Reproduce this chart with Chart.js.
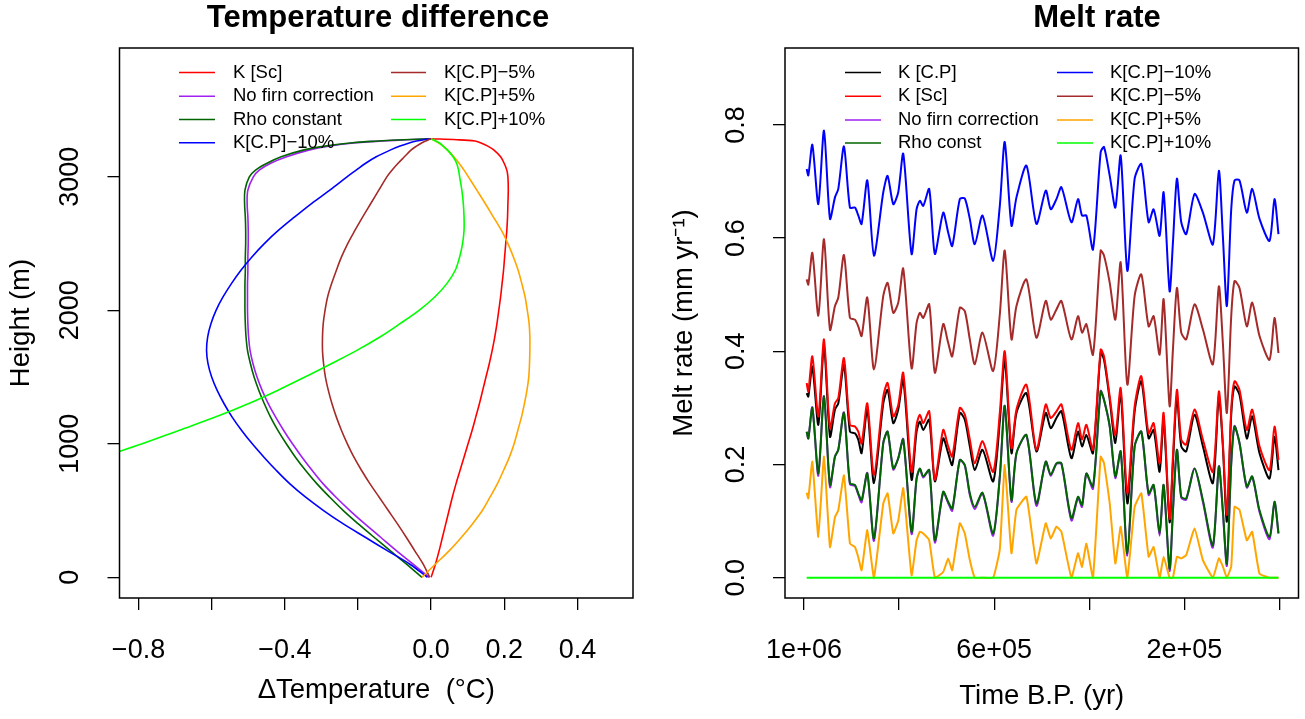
<!DOCTYPE html>
<html><head><meta charset="utf-8">
<script src="https://cdn.jsdelivr.net/npm/chart.js@4.4.1/dist/chart.umd.min.js"></script>
<style>
html,body{margin:0;padding:0;background:#fff;}
#wrap{position:relative;width:1305px;height:719px;overflow:hidden;background:#fff;}
#c1{position:absolute;left:0;top:0;}
#c2{position:absolute;left:652px;top:0;}
</style></head><body>
<div id="wrap"><canvas id="c1" width="652" height="719"></canvas><canvas id="c2" width="653" height="719"></canvas></div>
<script>
// ---------------- Left panel: temperature difference profiles ----------------
const HEIGHTS = [0,100,200,300,400,500,600,700,800,900,1000,1100,1200,1300,1400,1500,1600,1700,1800,1900,2000,2100,2200,2300,2400,2500,2600,2700,2800,2900,3000,3050,3100,3150,3200,3230,3255,3268,3278,3285];
const DT_K_SC = [0,.012,.022,.031,.040,.049,.058,.068,.079,.090,.101,.112,.122,.132,.141,.150,.159,.167,.174,.180,.185,.190,.194,.198,.201,.204,.207,.209,.210,.211,.210,.207,.200,.190,.172,.155,.135,.120,.070,0];
const DT_NO_FIRN = [-.005,-.050,-.095,-.138,-.181,-.222,-.260,-.295,-.325,-.353,-.379,-.403,-.425,-.445,-.462,-.476,-.487,-.495,-.499,-.501,-.502,-.502,-.502,-.501,-.501,-.500,-.500,-.501,-.503,-.501,-.486,-.470,-.440,-.395,-.335,-.280,-.205,-.135,-.065,0];
const DT_RHO_CONST = [-.025,-.068,-.112,-.156,-.199,-.240,-.277,-.312,-.343,-.371,-.396,-.419,-.439,-.456,-.471,-.484,-.494,-.502,-.506,-.508,-.509,-.509,-.509,-.508,-.508,-.507,-.507,-.508,-.510,-.509,-.497,-.480,-.450,-.410,-.350,-.290,-.215,-.145,-.075,0];
const DT_KCP_M10 = [-.010,-.059,-.120,-.180,-.240,-.294,-.343,-.386,-.423,-.457,-.489,-.518,-.544,-.566,-.585,-.600,-.610,-.614,-.611,-.602,-.588,-.569,-.546,-.520,-.490,-.456,-.417,-.373,-.327,-.277,-.230,-.205,-.180,-.150,-.112,-.085,-.058,-.040,-.020,0];
const DT_KCP_M5 = [-.004,-.022,-.045,-.068,-.092,-.117,-.142,-.167,-.190,-.211,-.229,-.245,-.259,-.271,-.281,-.289,-.294,-.297,-.297,-.295,-.290,-.283,-.272,-.259,-.245,-.228,-.208,-.187,-.165,-.143,-.121,-.107,-.091,-.073,-.055,-.040,-.025,-.015,-.007,0];
const DT_KCP_P5 = [-.025,.012,.050,.083,.113,.140,.161,.181,.198,.214,.227,.237,.247,.255,.262,.267,.269,.270,.270,.268,.263,.257,.248,.238,.225,.210,.192,.170,.148,.125,.102,.090,.077,.062,.045,.033,.020,.012,.005,0];
const DT_KCP_P10 = [null,null,null,null,null,null,null,null,null,-.90,-.79,-.69,-.59,-.50,-.42,-.345,-.273,-.203,-.14,-.085,-.033,.010,.043,.066,.078,.086,.090,.090,.088,.084,.078,.075,.070,.060,.045,.033,.022,.013,.005,0];

const LEFT_X_TICKS = [-0.8,-0.6,-0.4,-0.2,0,0.2,0.4];
const LEFT_X_LABELS = ['\u22120.8','','\u22120.4','','0.0','0.2','0.4'];
const LEFT_Y_TICKS = [0,1000,2000,3000];
const LEFT_Y_LABELS = ['0','1000','2000','3000'];

// ---------------- Right panel: melt rate time series ----------------
const TIME_BP = [994400,990900,982500,969900,958000,945400,934900,927900,916000,903400,892900,885900,878900,866900,852900,833300,824200,812300,801800,791300,773800,763300,756300,749300,736700,724800,707300,696800,688300,672300,661800,651300,640800,624600,602200,588200,577800,563700,553200,532200,511200,491600,481100,469100,458600,437600,423700,415300,406100,392200,376100,369000,357000,345200,334000,320000,304600,290600,275200,264700,252100,243700,231100,224100,215700,206600,196100,178600,161100,140100,127500,119100,110700,101500,94600,84100,68700,57400,42000,21000,10500,2100];
const MELT_KCP_M10 = [.722,.711,.765,.660,.790,.634,.672,.687,.762,.654,.654,.640,.625,.702,.569,.681,.710,.660,.681,.749,.572,.651,.666,.657,.687,.572,.645,.610,.586,.669,.670,.634,.589,.640,.560,.657,.770,.622,.672,.728,.625,.684,.651,.669,.690,.628,.669,.640,.640,.580,.752,.761,.710,.654,.746,.542,.705,.731,.628,.651,.604,.681,.506,.592,.705,.628,.607,.678,.645,.589,.719,.604,.480,.651,.702,.702,.645,.687,.634,.595,.669,.607];
const MELT_KCP_M5 = [.527,.518,.574,.463,.598,.438,.480,.495,.570,.459,.456,.444,.427,.495,.368,.498,.521,.468,.486,.546,.370,.450,.468,.459,.483,.362,.448,.415,.391,.477,.471,.421,.377,.433,.365,.465,.578,.421,.480,.527,.424,.489,.456,.474,.489,.421,.462,.433,.448,.394,.578,.569,.521,.456,.557,.341,.498,.536,.444,.462,.394,.492,.303,.403,.512,.433,.421,.483,.439,.377,.515,.415,.291,.462,.524,.512,.444,.486,.427,.385,.459,.397];
const MELT_KSC = [.344,.329,.391,.285,.421,.264,.308,.317,.388,.270,.267,.258,.237,.308,.181,.320,.344,.285,.305,.362,.187,.270,.288,.273,.294,.173,.261,.232,.214,.300,.288,.244,.202,.241,.187,.291,.400,.229,.297,.341,.226,.306,.282,.294,.306,.226,.273,.244,.270,.226,.403,.391,.320,.252,.335,.149,.303,.356,.255,.273,.202,.291,.104,.214,.332,.244,.235,.297,.244,.187,.329,.238,.111,.297,.347,.332,.261,.297,.232,.190,.267,.208];
const MELT_KCP = [.326,.320,.373,.270,.409,.249,.297,.308,.376,.258,.255,.244,.220,.297,.167,.308,.332,.273,.297,.350,.173,.258,.276,.261,.279,.170,.246,.220,.199,.291,.279,.232,.190,.226,.170,.276,.385,.220,.291,.326,.223,.291,.264,.282,.294,.211,.258,.232,.252,.220,.397,.385,.314,.238,.326,.131,.294,.347,.246,.261,.187,.279,.098,.202,.320,.232,.223,.288,.232,.167,.320,.232,.099,.288,.338,.323,.246,.285,.220,.175,.249,.190];
const MELT_RHO_CONST = [.258,.246,.300,.184,.320,.164,.214,.226,.291,.167,.164,.149,.137,.184,.069,.238,.258,.193,.211,.244,.081,.175,.193,.179,.190,.066,.152,.134,.122,.208,.199,.149,.125,.150,.078,.179,.303,.137,.220,.252,.131,.205,.182,.202,.202,.105,.143,.128,.184,.161,.329,.314,.267,.179,.223,.043,.232,.258,.149,.164,.078,.164,.016,.119,.226,.143,.140,.193,.137,.057,.196,.119,.025,.202,.267,.238,.161,.179,.119,.072,.134,.078];
const MELT_NO_FIRN = [.258,.246,.301,.180,.321,.160,.214,.226,.292,.165,.162,.147,.133,.185,.065,.238,.258,.191,.211,.245,.077,.174,.192,.177,.190,.062,.150,.132,.118,.208,.198,.146,.121,.149,.074,.178,.304,.134,.219,.252,.127,.205,.180,.201,.201,.101,.141,.125,.184,.157,.330,.314,.267,.176,.223,.039,.232,.258,.146,.163,.074,.163,.012,.116,.226,.141,.138,.193,.134,.053,.197,.116,.021,.201,.268,.238,.159,.178,.116,.068,.134,.078];
const MELT_KCP_P5 = [.150,.140,.205,.072,.214,.054,.107,.119,.181,.060,.054,.036,.013,.084,0,.131,.149,.078,.101,.158,.004,.066,.081,.078,.066,0,.010,.034,.013,.096,.078,.031,0,0,0,.050,.199,.043,.120,.143,.025,.096,.069,.090,.081,0,.043,.019,.060,0,.214,.202,.131,.025,.090,0,.125,.149,.037,.054,0,.037,0,0,.037,.034,.040,.087,.031,0,.034,.020,0,.020,.125,.120,.066,.081,.007,0,0,0];
const MELT_KCP_P10 = [0,0,0,0,0,0,0,0,0,0,0,0,0,0,0,0,0,0,0,0,0,0,0,0,0,0,0,0,0,0,0,0,0,0,0,0,0,0,0,0,0,0,0,0,0,0,0,0,0,0,0,0,0,0,0,0,0,0,0,0,0,0,0,0,0,0,0,0,0,0,0,0,0,0,0,0,0,0,0,0,0,0];

const RIGHT_X_TICKS = [1000000,800000,600000,400000,200000,0];
const RIGHT_X_LABELS = ['1e+06','','6e+05','','2e+05',''];
const RIGHT_Y_TICKS = [0,0.2,0.4,0.6,0.8];
const RIGHT_Y_LABELS = ['0.0','0.2','0.4','0.6','0.8'];

// ---------------- Rendering ----------------
const FONT = "'Liberation Sans', Arial, Helvetica, sans-serif";
Chart.defaults.font.family = FONT;
Chart.defaults.color = '#000';

const decor = {
  id: 'decor',
  afterDraw(chart, args, o) {
    const ctx = chart.ctx, a = chart.chartArea;
    ctx.save();
    ctx.strokeStyle = '#000';
    ctx.lineWidth = 1.5;
    ctx.strokeRect(a.left, a.top, a.right - a.left, a.bottom - a.top);
    ctx.fillStyle = '#000';
    ctx.font = 'bold 31px ' + FONT;
    ctx.textAlign = 'center';
    ctx.textBaseline = 'alphabetic';
    ctx.fillText(o.title, o.titleX, o.titleY);
    ctx.font = '18.5px ' + FONT;
    ctx.textAlign = 'left';
    ctx.textBaseline = 'middle';
    chart.data.datasets.forEach((ds, i) => {
      const col = i < o.perCol ? 0 : 1;
      const row = i < o.perCol ? i : i - o.perCol;
      const y = o.rows[row];
      const c = o.cols[col];
      ctx.strokeStyle = ds.borderColor;
      ctx.lineWidth = 1.6;
      ctx.beginPath(); ctx.moveTo(c[0], y); ctx.lineTo(c[1], y); ctx.stroke();
      ctx.fillText(ds.label, c[2], y);
    });
    ctx.restore();
  }
};

function makeAxis(cfg) {
  const a = {
    type: 'linear', min: cfg.min, max: cfg.max, reverse: !!cfg.reverse,
    afterBuildTicks: s => { s.ticks = cfg.ticks.map(v => ({ value: v })); },
    afterFit: s => { if (cfg.isX) s.height = cfg.size; else s.width = cfg.size; },
    ticks: { autoSkip: false, color: '#000', font: { size: 27, family: FONT }, padding: cfg.tickPad,
             callback: (v, i) => cfg.labels[i] },
    grid: { display: true, drawOnChartArea: false, drawTicks: true, tickLength: 12, color: '#000', lineWidth: 1.3 },
    border: { display: false },
    title: { display: true, text: cfg.title, color: '#000', font: { size: 27.5, family: FONT }, padding: cfg.titlePad }
  };
  if (cfg.isX) { a.ticks.maxRotation = 0; a.ticks.minRotation = 0; }
  else { a.ticks.maxRotation = 90; a.ticks.minRotation = 90; a.ticks.crossAlign = 'center'; }
  return a;
}

function leftSet(label, arr, color, k) {
  const pts = [];
  HEIGHTS.forEach((h, i) => { if (arr[i] !== null) pts.push({ x: arr[i], y: h }); });
  return { label, data: pts, borderColor: color, backgroundColor: color, borderWidth: 1.6,
           pointRadius: 0, showLine: true, tension: 0.35, clip: 0, order: -k };
}
function rightSet(label, arr, color, k, tension) {
  return { label, data: TIME_BP.map((t, i) => ({ x: t, y: arr[i] })), borderColor: color, backgroundColor: color,
           borderWidth: 2, pointRadius: 0, showLine: true, tension: tension, clip: 0, order: -k };
}

new Chart(document.getElementById('c1'), {
  type: 'scatter',
  data: { datasets: [
    leftSet('K [Sc]', DT_K_SC, '#FF0000', 0),
    leftSet('No firn correction', DT_NO_FIRN, '#A020F0', 1),
    leftSet('Rho constant', DT_RHO_CONST, '#006400', 2),
    leftSet('K[C.P]\u221210%', DT_KCP_M10, '#0000FF', 3),
    leftSet('K[C.P]\u22125%', DT_KCP_M5, '#A52A2A', 4),
    leftSet('K[C.P]+5%', DT_KCP_P5, '#FFA500', 5),
    leftSet('K[C.P]+10%', DT_KCP_P10, '#00FF00', 6)
  ]},
  options: {
    responsive: false, animation: false, devicePixelRatio: 1,
    layout: { padding: { left: 0, right: 19, top: 48, bottom: 0 } },
    plugins: { legend: { display: false }, tooltip: { enabled: false },
      decor: { title: 'Temperature difference', titleX: 378, titleY: 27, perCol: 4,
               rows: [72.5, 96.3, 119.5, 142.7], cols: [[179, 215, 233], [391, 426, 444]] } },
    scales: {
      x: makeAxis({ isX: true, min: -0.852, max: 0.552, ticks: LEFT_X_TICKS, labels: LEFT_X_LABELS, size: 121,
                    tickPad: 24, title: '\u0394Temperature  (\u00B0C)', titlePad: { top: 0, bottom: 12 } }),
      y: makeAxis({ isX: false, min: -155, max: 3965, ticks: LEFT_Y_TICKS, labels: LEFT_Y_LABELS, size: 119.5,
                    tickPad: 6.5, title: 'Height (m)', titlePad: { top: 5, bottom: 0 } })
    }
  },
  plugins: [decor]
});

new Chart(document.getElementById('c2'), {
  type: 'scatter',
  data: { datasets: [
    rightSet('K [C.P]', MELT_KCP, '#000000', 0, 0.25),
    rightSet('K [Sc]', MELT_KSC, '#FF0000', 1, 0.25),
    rightSet('No firn correction', MELT_NO_FIRN, '#A020F0', 2, 0.25),
    rightSet('Rho const', MELT_RHO_CONST, '#006400', 3, 0.25),
    rightSet('K[C.P]\u221210%', MELT_KCP_M10, '#0000FF', 4, 0.25),
    rightSet('K[C.P]\u22125%', MELT_KCP_M5, '#A52A2A', 5, 0.25),
    rightSet('K[C.P]+5%', MELT_KCP_P5, '#FFA500', 6, 0.12),
    rightSet('K[C.P]+10%', MELT_KCP_P10, '#00FF00', 7, 0)
  ]},
  options: {
    responsive: false, animation: false, devicePixelRatio: 1,
    layout: { padding: { left: 0, right: 6.5, top: 48, bottom: 0 } },
    plugins: { legend: { display: false }, tooltip: { enabled: false },
      decor: { title: 'Melt rate', titleX: 445, titleY: 27, perCol: 4,
               rows: [72.5, 96.3, 120, 143], cols: [[193, 229, 246], [405, 441, 458]] } },
    scales: {
      x: makeAxis({ isX: true, reverse: true, min: -40000, max: 1040000, ticks: RIGHT_X_TICKS, labels: RIGHT_X_LABELS, size: 121,
                    tickPad: 24, title: 'Time B.P. (yr)', titlePad: { top: 0, bottom: 6 } }),
      y: makeAxis({ isX: false, min: -0.036, max: 0.936, ticks: RIGHT_Y_TICKS, labels: RIGHT_Y_LABELS, size: 133,
                    tickPad: 17.5, title: 'Melt rate (mm yr\u207B\u00B9)', titlePad: { top: 16, bottom: 0 } })
    }
  },
  plugins: [decor]
});
</script></body></html>
